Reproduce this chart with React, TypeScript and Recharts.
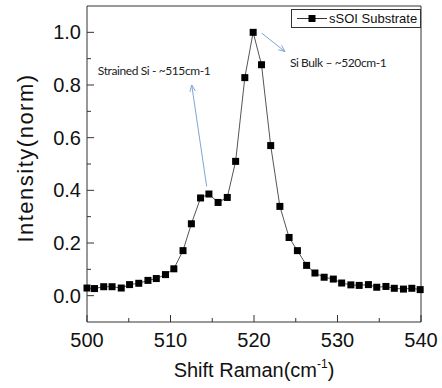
import { LineChart, Line, XAxis, YAxis, Legend, ReferenceLine, ReferenceDot } from "recharts";

// Raman shift (cm-1) and normalised intensity
const SHIFT = [
  500.0, 500.9, 502.0, 503.0, 504.1, 505.1, 506.2, 507.3, 508.3, 509.4,
  510.4, 511.5, 512.5, 513.6, 514.6, 515.7, 516.8, 517.8, 518.9, 519.9,
  520.9, 522.0, 523.1, 524.2, 525.2, 526.3, 527.3, 528.4, 529.5, 530.5,
  531.6, 532.6, 533.7, 534.7, 535.8, 536.8, 537.9, 538.9, 539.9,
];
const INTENSITY = [
  0.029, 0.027, 0.034, 0.034, 0.029, 0.042, 0.047, 0.058, 0.065, 0.08,
  0.102, 0.171, 0.273, 0.371, 0.386, 0.354, 0.373, 0.51, 0.828, 1.0,
  0.877, 0.57, 0.339, 0.221, 0.171, 0.115, 0.086, 0.07, 0.063, 0.048,
  0.041, 0.039, 0.042, 0.032, 0.035, 0.028, 0.025, 0.028, 0.023,
];
const X_TICKS = [500, 505, 510, 515, 520, 525, 530, 535, 540];
const Y_TICKS = [0, 0.1, 0.2, 0.3, 0.4, 0.5, 0.6, 0.7, 0.8, 0.9, 1.0];
const SERIES_NAME = "sSOI Substrate";

const ANNOTATIONS = [
  { text: "Strained Si - ~515cm-1", tx: 501.3, ty: 0.855, from: [514.33, 0.415], to: [512.54, 0.8] },
  { text: "Si Bulk \u2013 ~520cm-1", tx: 524.3, ty: 0.883, from: [520.92, 0.997], to: [523.71, 0.927] },
];

const data = SHIFT.map((x, i) => ({ x, y: INTENSITY[i] }));

const AXIS = "#333";
const FONT = "Arial, 'Liberation Sans', sans-serif";

function XTick({ x, y, payload }: any) {
  const major = payload.value % 10 === 0;
  return (
    <g>
      <line x1={x} x2={x} y1={y} y2={y - (major ? 7 : 4)} stroke={AXIS} />
      {major && (
        <text x={x} y={y + 25} textAnchor="middle" fontSize={20} fontFamily={FONT} fill="#111">{payload.value}</text>
      )}
    </g>
  );
}

function YTick({ x, y, payload }: any) {
  const v = Math.round(payload.value * 10);
  const major = v % 2 === 0;
  return (
    <g>
      <line x1={x} x2={x + (major ? 7 : 4)} y1={y} y2={y} stroke={AXIS} />
      {major && (
        <text x={x - 6} y={y + 7} textAnchor="end" fontSize={20} fontFamily={FONT} fill="#111">{(v / 10).toFixed(1)}</text>
      )}
    </g>
  );
}

function SquareDot({ cx, cy }: any) {
  if (cx == null || cy == null) return null;
  return <rect x={cx - 3.5} y={cy - 3.5} width={7} height={7} fill="#000" />;
}

function Arrow({ x1, y1, x2, y2 }: any) {
  // arrow from (x1,y1) to (x2,y2), open head at the end
  const a = Math.atan2(y2 - y1, x2 - x1);
  const h = 7;
  const p1 = [x2 - h * Math.cos(a - 0.4), y2 - h * Math.sin(a - 0.4)];
  const p2 = [x2 - h * Math.cos(a + 0.4), y2 - h * Math.sin(a + 0.4)];
  return (
    <g stroke="#7fa6d6" strokeWidth={1} fill="none">
      <line x1={x1} y1={y1} x2={x2} y2={y2} />
      <polyline points={`${p1[0]},${p1[1]} ${x2},${y2} ${p2[0]},${p2[1]}`} />
    </g>
  );
}

function LegendBox() {
  return (
    <div style={{ boxSizing: "border-box", width: 130, height: 19, border: `1px solid ${AXIS}`, background: "#fff", display: "flex", alignItems: "center", fontFamily: FONT, fontSize: 13, color: "#111" }}>
      <svg width={38} height={17} style={{ flex: "none" }}>
        <line x1={5} x2={35} y1={8.5} y2={8.5} stroke="#333" />
        <rect x={16.5} y={5} width={7} height={7} fill="#000" />
      </svg>
      <span style={{ marginLeft: -1 }}>{SERIES_NAME}</span>
    </div>
  );
}

export default function App() {
  return (
    <div style={{ position: "absolute", left: 0, top: 0, width: 442, height: 388, background: "#fff" }}>
      <LineChart width={442} height={388} data={data} margin={{ top: 6, right: 21, bottom: 0, left: 0 }}>
        <XAxis
          dataKey="x"
          type="number"
          domain={[500, 540]}
          ticks={X_TICKS}
          interval={0}
          height={66}
          stroke={AXIS}
          tickLine={false}
          tickSize={0}
          tickMargin={0}
          tick={<XTick />}
          label={{
            content: ({ viewBox }: any) => (
              <text x={viewBox.x + viewBox.width / 2} y={viewBox.y + 55} textAnchor="middle" fontSize={20} fontFamily={FONT} fill="#111">
                Shift Raman(cm<tspan dy={-9} fontSize={12}>-1</tspan><tspan dy={9}>)</tspan>
              </text>
            ),
          }}
        />
        <YAxis
          type="number"
          domain={[-0.1, 1.1]}
          ticks={Y_TICKS}
          interval={0}
          width={87}
          stroke={AXIS}
          tickLine={false}
          tickSize={0}
          tickMargin={0}
          tick={<YTick />}
          label={{
            content: ({ viewBox }: any) => {
              const cx = 33;
              const cy = viewBox.y + viewBox.height / 2 - 6;
              return (
                <text x={cx} y={cy} transform={`rotate(-90 ${cx} ${cy})`} textAnchor="middle" fontSize={22} letterSpacing={1.5} fontFamily={FONT} fill="#111">
                  Intensity(norm)
                </text>
              );
            },
          }}
        />
        <ReferenceLine y={1.1} stroke={AXIS} />
        <ReferenceLine x={540} stroke={AXIS} />
        {ANNOTATIONS.map((a, i) => (
          <ReferenceLine key={"a" + i} segment={[{ x: a.from[0], y: a.from[1] }, { x: a.to[0], y: a.to[1] }]} shape={<Arrow />} />
        ))}
        {ANNOTATIONS.map((a, i) => (
          <ReferenceDot
            key={"t" + i}
            x={a.tx}
            y={a.ty}
            shape={(p: any) => (
              <text x={p.cx} y={p.cy + 4} fontSize={12} letterSpacing={-0.4} fontFamily="Lato, 'Open Sans', sans-serif" fill="#222">{a.text}</text>
            )}
          />
        ))}
        <Legend layout="vertical" align="center" verticalAlign="middle" wrapperStyle={{ left: 291, top: 9, width: 130 }} content={() => <LegendBox />} />
        <Line
          dataKey="y"
          name={SERIES_NAME}
          stroke="#555"
          strokeWidth={1}
          dot={<SquareDot />}
          activeDot={false}
          isAnimationActive={false}
        />
      </LineChart>
    </div>
  );
}
